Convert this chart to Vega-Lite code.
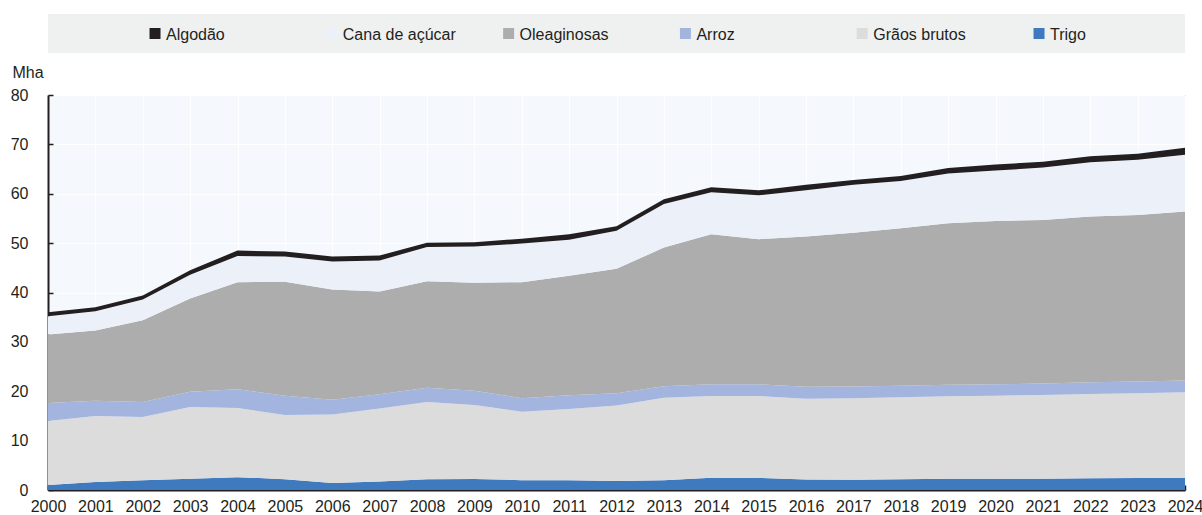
{
  "$schema": "https://vega.github.io/schema/vega-lite/v6.json",
  "padding": {"left": 9, "top": 14, "right": 0, "bottom": 0},
  "background": "white",
  "config": {
    "font": "Liberation Sans, Arial, sans-serif",
    "axis": {
      "domainColor": "#231f20",
      "domainWidth": 2,
      "tickColor": "#231f20",
      "tickWidth": 1.5,
      "tickSize": -5,
      "labelFont": "Liberation Sans, Arial, sans-serif",
      "labelFontSize": 16,
      "labelColor": "#231f20",
      "labelFlush": false,
      "labelOverlap": false,
      "gridColor": "#ffffff",
      "gridWidth": 1,
      "gridOpacity": 1,
      "titleFont": "Liberation Sans, Arial, sans-serif",
      "titleColor": "#231f20",
      "titleFontSize": 16,
      "titleFontWeight": "normal"
    }
  },
  "datasets": {
    "crops": [
      {"year": 2000, "Trigo": 1.0, "Grãos brutos": 13.0, "Arroz": 3.6, "Oleaginosas": 13.9, "Cana de açúcar": 3.7, "Algodão": 0.8},
      {"year": 2001, "Trigo": 1.6, "Grãos brutos": 13.4, "Arroz": 3.1, "Oleaginosas": 14.2, "Cana de açúcar": 3.9, "Algodão": 0.8},
      {"year": 2002, "Trigo": 2.0, "Grãos brutos": 12.8, "Arroz": 3.0, "Oleaginosas": 16.6, "Cana de açúcar": 4.2, "Algodão": 0.8},
      {"year": 2003, "Trigo": 2.3, "Grãos brutos": 14.5, "Arroz": 3.1, "Oleaginosas": 18.9, "Cana de açúcar": 4.8, "Algodão": 0.9},
      {"year": 2004, "Trigo": 2.6, "Grãos brutos": 14.0, "Arroz": 3.8, "Oleaginosas": 21.7, "Cana de açúcar": 5.3, "Algodão": 1.1},
      {"year": 2005, "Trigo": 2.2, "Grãos brutos": 13.0, "Arroz": 3.9, "Oleaginosas": 23.1, "Cana de açúcar": 5.1, "Algodão": 1.0},
      {"year": 2006, "Trigo": 1.4, "Grãos brutos": 13.9, "Arroz": 3.0, "Oleaginosas": 22.3, "Cana de açúcar": 5.7, "Algodão": 1.0},
      {"year": 2007, "Trigo": 1.7, "Grãos brutos": 14.8, "Arroz": 2.9, "Oleaginosas": 20.8, "Cana de açúcar": 6.3, "Algodão": 1.0},
      {"year": 2008, "Trigo": 2.2, "Grãos brutos": 15.6, "Arroz": 2.9, "Oleaginosas": 21.6, "Cana de açúcar": 6.9, "Algodão": 0.9},
      {"year": 2009, "Trigo": 2.25, "Grãos brutos": 14.95, "Arroz": 2.9, "Oleaginosas": 21.9, "Cana de açúcar": 7.3, "Algodão": 0.9},
      {"year": 2010, "Trigo": 2.0, "Grãos brutos": 13.85, "Arroz": 2.75, "Oleaginosas": 23.5, "Cana de açúcar": 7.8, "Algodão": 1.0},
      {"year": 2011, "Trigo": 2.0, "Grãos brutos": 14.4, "Arroz": 2.8, "Oleaginosas": 24.2, "Cana de açúcar": 7.3, "Algodão": 1.1},
      {"year": 2012, "Trigo": 1.8, "Grãos brutos": 15.3, "Arroz": 2.5, "Oleaginosas": 25.2, "Cana de açúcar": 7.7, "Algodão": 0.9},
      {"year": 2013, "Trigo": 2.0, "Grãos brutos": 16.7, "Arroz": 2.3, "Oleaginosas": 28.1, "Cana de açúcar": 8.8, "Algodão": 1.0},
      {"year": 2014, "Trigo": 2.5, "Grãos brutos": 16.55, "Arroz": 2.35, "Oleaginosas": 30.4, "Cana de açúcar": 8.5, "Algodão": 1.0},
      {"year": 2015, "Trigo": 2.45, "Grãos brutos": 16.6, "Arroz": 2.35, "Oleaginosas": 29.4, "Cana de açúcar": 8.9, "Algodão": 1.0},
      {"year": 2016, "Trigo": 2.15, "Grãos brutos": 16.35, "Arroz": 2.4, "Oleaginosas": 30.45, "Cana de açúcar": 9.35, "Algodão": 1.1},
      {"year": 2017, "Trigo": 2.1, "Grãos brutos": 16.5, "Arroz": 2.35, "Oleaginosas": 31.15, "Cana de açúcar": 9.7, "Algodão": 1.0},
      {"year": 2018, "Trigo": 2.2, "Grãos brutos": 16.6, "Arroz": 2.3, "Oleaginosas": 31.9, "Cana de açúcar": 9.6, "Algodão": 1.0},
      {"year": 2019, "Trigo": 2.3, "Grãos brutos": 16.7, "Arroz": 2.3, "Oleaginosas": 32.75, "Cana de açúcar": 10.05, "Algodão": 1.1},
      {"year": 2020, "Trigo": 2.3, "Grãos brutos": 16.8, "Arroz": 2.3, "Oleaginosas": 33.1, "Cana de açúcar": 10.2, "Algodão": 1.2},
      {"year": 2021, "Trigo": 2.3, "Grãos brutos": 16.95, "Arroz": 2.3, "Oleaginosas": 33.15, "Cana de açúcar": 10.6, "Algodão": 1.2},
      {"year": 2022, "Trigo": 2.4, "Grãos brutos": 17.05, "Arroz": 2.35, "Oleaginosas": 33.6, "Cana de açúcar": 11.0, "Algodão": 1.2},
      {"year": 2023, "Trigo": 2.45, "Grãos brutos": 17.15, "Arroz": 2.4, "Oleaginosas": 33.7, "Cana de açúcar": 11.2, "Algodão": 1.2},
      {"year": 2024, "Trigo": 2.5, "Grãos brutos": 17.3, "Arroz": 2.4, "Oleaginosas": 34.2, "Cana de açúcar": 11.5, "Algodão": 1.4}
    ],
    "items": [
      {"series": "Algodão"},
      {"series": "Cana de açúcar"},
      {"series": "Oleaginosas"},
      {"series": "Arroz"},
      {"series": "Grãos brutos"},
      {"series": "Trigo"}
    ]
  },
  "bounds": "flush",
  "spacing": 42,
  "resolve": {"scale": {"color": "shared"}},
  "vconcat": [
    {
      "width": 1137,
      "height": 39,
      "view": {"fill": "#eff1f1", "stroke": null},
      "data": {"name": "items"},
      "encoding": {
        "x": {
          "field": "series",
          "type": "nominal",
          "scale": {
            "type": "point",
            "domain": ["Algodão", "Cana de açúcar", "Oleaginosas", "Arroz", "Grãos brutos", "Trigo"],
            "padding": 0.7155,
            "align": 0.423
          },
          "axis": null
        }
      },
      "layer": [
        {
          "mark": {"type": "point", "shape": "square", "filled": true, "size": 121, "opacity": 1},
          "encoding": {
            "color": {
              "field": "series",
              "type": "nominal",
              "scale": {
                "domain": ["Algodão", "Cana de açúcar", "Oleaginosas", "Arroz", "Grãos brutos", "Trigo"],
                "range": ["#231f20", "#ecf1f9", "#adadad", "#a3b5de", "#dcdcdc", "#3f7abf"]
              },
              "legend": null
            }
          }
        },
        {
          "mark": {"type": "text", "align": "left", "baseline": "middle", "dx": 11, "dy": 1, "fontSize": 16, "font": "Liberation Sans, Arial, sans-serif", "color": "#231f20"},
          "encoding": {"text": {"field": "series", "type": "nominal"}}
        }
      ]
    },
    {
      "width": 1137,
      "height": 395,
      "view": {"fill": "#f5f9fd", "stroke": "#4d4d4d", "strokeWidth": 1},
      "data": {"name": "crops"},
      "transform": [
        {"fold": ["Trigo", "Grãos brutos", "Arroz", "Oleaginosas", "Cana de açúcar", "Algodão"], "as": ["series", "value"]},
        {"calculate": "indexof(['Trigo', 'Grãos brutos', 'Arroz', 'Oleaginosas', 'Cana de açúcar', 'Algodão'], datum.series)", "as": "k"}
      ],
      "mark": {"type": "area", "interpolate": "linear"},
      "encoding": {
        "x": {
          "field": "year",
          "type": "quantitative",
          "scale": {"domain": [2000, 2024], "nice": false, "zero": false},
          "axis": {
            "values": [2000, 2001, 2002, 2003, 2004, 2005, 2006, 2007, 2008, 2009, 2010, 2011, 2012, 2013, 2014, 2015, 2016, 2017, 2018, 2019, 2020, 2021, 2022, 2023, 2024],
            "format": "d",
            "title": null,
            "grid": true,
            "labelPadding": 13
          }
        },
        "y": {
          "field": "value",
          "type": "quantitative",
          "stack": "zero",
          "scale": {"domain": [0, 80], "nice": false},
          "axis": {
            "values": [0, 10, 20, 30, 40, 50, 60, 70, 80],
            "title": "Mha",
            "titleAngle": 0,
            "titleAlign": "left",
            "titleBaseline": "alphabetic",
            "titleX": -36,
            "titleY": -18,
            "grid": true,
            "labelPadding": 25
          }
        },
        "color": {"field": "series", "type": "nominal", "legend": null},
        "order": {"field": "k", "type": "quantitative"}
      }
    }
  ]
}
